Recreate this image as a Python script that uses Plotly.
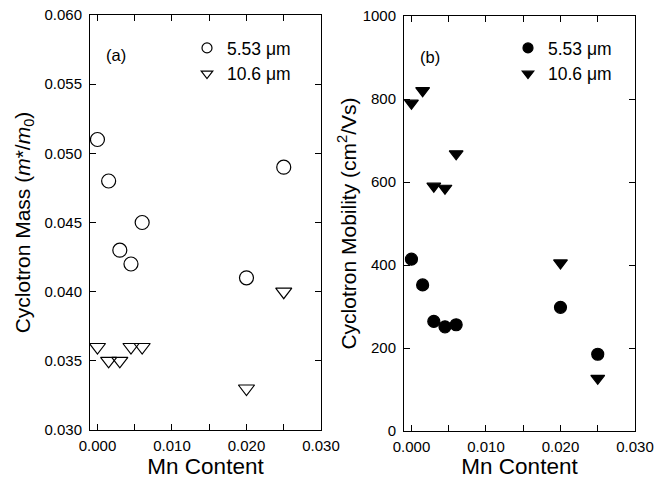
import plotly.graph_objects as go

# Data
mn_content = [0.000, 0.0015, 0.003, 0.0045, 0.006, 0.020, 0.025]
mass_553 = [0.051, 0.048, 0.043, 0.042, 0.045, 0.041, 0.049]
mass_106 = [0.036, 0.035, 0.035, 0.036, 0.036, 0.033, 0.040]
mob_553 = [414, 352, 264, 251, 256, 298, 185]
mob_106 = [790, 820, 590, 585, 668, 405, 127]

series_names = ["5.53 \u03bcm", "10.6 \u03bcm"]
x_tickvals = [0.000, 0.010, 0.020, 0.030]
x_ticktext = ["0.000", "0.010", "0.020", "0.030"]
mass_tickvals = [0.030, 0.035, 0.040, 0.045, 0.050, 0.055, 0.060]
mass_ticktext = ["0.030", "0.035", "0.040", "0.045", "0.050", "0.055", "0.060"]
mob_tickvals = [0, 200, 400, 600, 800, 1000]

FONT = "Liberation Sans, Arial, sans-serif"
BLACK = "black"

# The page body has an 8 px margin; the figure is sized to fit the 668x479 window.
W, H, OFF = 660, 471, 8
def X(px):
    return (px - OFF) / W
def Y(py):
    return 1 - (py - OFF) / H

fig = go.Figure()

def add_series(x, y, symbol, size, xa, ya, legend, name):
    fig.add_trace(go.Scatter(x=x, y=y, mode="markers", name=name, showlegend=False,
                             marker=dict(symbol=symbol, size=size, color=BLACK, line=dict(width=1.2, color=BLACK)),
                             xaxis=xa, yaxis=ya))
    # legend entry with the smaller legend symbol
    fig.add_trace(go.Scatter(x=[None], y=[None], mode="markers", name=name, showlegend=True,
                             marker=dict(symbol=symbol, size=10, color=BLACK, line=dict(width=1.2, color=BLACK)),
                             xaxis=xa, yaxis=ya, legend=legend))

add_series(mn_content, mass_553, "circle-open", 14, "x", "y", "legend", series_names[0])
add_series(mn_content, mass_106, "triangle-down-open", 14, "x", "y", "legend", series_names[1])
add_series(mn_content, mob_553, "circle", 12, "x2", "y2", "legend2", series_names[0])
add_series(mn_content, mob_106, "triangle-down", 12, "x2", "y2", "legend2", series_names[1])

ax_common = dict(showline=True, linecolor=BLACK, linewidth=1, mirror="allticks",
                 ticks="inside", ticklen=6, tickcolor=BLACK, showgrid=False, zeroline=False,
                 automargin=False, ticklabeloverflow="allow",
                 tickfont=dict(family=FONT, size=15, color=BLACK))

x_common = dict(ax_common, range=[-0.001, 0.030], tickvals=x_tickvals, ticktext=x_ticktext,
                ticklabelstandoff=2,
                minor=dict(dtick=0.005, tick0=0, ticks="inside", ticklen=6, tickcolor=BLACK, showgrid=False),
                title=dict(text="Mn Content", font=dict(family=FONT, size=22.5, color=BLACK), standoff=6))

fig.update_layout(
    width=W, height=H,
    margin=dict(l=0, r=0, t=0, b=0),
    paper_bgcolor="white", plot_bgcolor="white",
    font=dict(family=FONT, color=BLACK),
    xaxis=dict(x_common, domain=[X(90), X(321)], anchor="y"),
    yaxis=dict(ax_common, domain=[Y(430), Y(15)], anchor="x", range=[0.030, 0.060],
               tickvals=mass_tickvals, ticktext=mass_ticktext, ticklabelstandoff=4,
               title=dict(text="Cyclotron Mass (<i>m</i>*/<i>m</i><sub>0</sub>)",
                          font=dict(family=FONT, size=21, color=BLACK), standoff=8)),
    xaxis2=dict(x_common, domain=[X(404), X(635)], anchor="y2"),
    yaxis2=dict(ax_common, domain=[Y(431), Y(16)], anchor="x2", range=[0, 1000],
                tickvals=mob_tickvals, ticklabelstandoff=4,
                title=dict(text="Cyclotron Mobility (cm<sup>2</sup>/Vs)",
                           font=dict(family=FONT, size=21, color=BLACK), standoff=0)),
    legend=dict(x=X(187), y=Y(30), xanchor="left", yanchor="top", bgcolor="rgba(0,0,0,0)",
                font=dict(family=FONT, size=17.5, color=BLACK), tracegroupgap=0),
    legend2=dict(x=X(508), y=Y(30), xanchor="left", yanchor="top", bgcolor="rgba(0,0,0,0)",
                 font=dict(family=FONT, size=17.5, color=BLACK), tracegroupgap=0),
    showlegend=True,
    annotations=[
        dict(text="(a)", x=X(104), y=Y(55), xref="paper", yref="paper", xanchor="left",
             yanchor="middle", showarrow=False, font=dict(family=FONT, size=16.5, color=BLACK)),
        dict(text="(b)", x=X(418), y=Y(57), xref="paper", yref="paper", xanchor="left",
             yanchor="middle", showarrow=False, font=dict(family=FONT, size=16.5, color=BLACK)),
    ],
)

fig.write_html("out.html")
